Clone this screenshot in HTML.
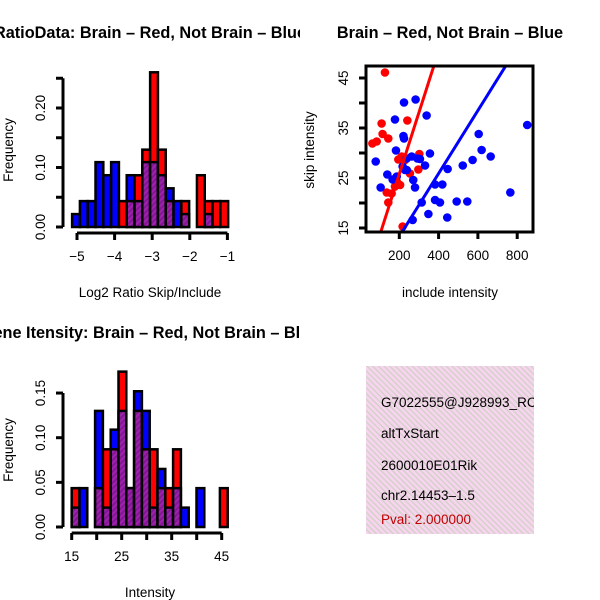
<!DOCTYPE html>
<html><head><meta charset="utf-8"><style>
html,body{margin:0;padding:0;background:#fff;}
svg{display:block;font-family:"Liberation Sans",sans-serif;}
</style></head><body>
<svg id="c" width="600" height="600" viewBox="0 0 600 600">
<defs>
<pattern id="hatchP" width="4" height="4" patternUnits="userSpaceOnUse" patternTransform="rotate(45)">
<rect width="4" height="4" fill="#a020b0"/><rect width="2" height="4" fill="#801890"/></pattern>
<pattern id="hatchBox" width="4" height="4" patternUnits="userSpaceOnUse" patternTransform="rotate(-45)">
<rect width="4" height="4" fill="#f8d4f0"/><rect width="1.3" height="4" fill="#cfd2c4"/></pattern>
<clipPath id="clipL1"><rect x="0" y="0" width="300" height="300"/></clipPath>
<clipPath id="clipL2"><rect x="0" y="300" width="300" height="300"/></clipPath>
<clipPath id="clipR1"><rect x="300" y="0" width="300" height="300"/></clipPath>
</defs>
<text x="150" y="38" text-anchor="middle" font-size="16.3" font-weight="bold" clip-path="url(#clipL1)">RatioData: Brain – Red, Not Brain – Blue</text>
<text x="150" y="297" text-anchor="middle" font-size="13.5">Log2 Ratio Skip/Include</text>
<text transform="translate(13,150) rotate(-90)" text-anchor="middle" font-size="13.5">Frequency</text>
<text x="450" y="38" text-anchor="middle" font-size="16.3" font-weight="bold" clip-path="url(#clipR1)">Brain – Red, Not Brain – Blue</text>
<text x="450" y="297" text-anchor="middle" font-size="13.5">include intensity</text>
<text transform="translate(314,150) rotate(-90)" text-anchor="middle" font-size="13.5">skip intensity</text>
<text x="150" y="338" text-anchor="middle" font-size="16.3" font-weight="bold" clip-path="url(#clipL2)">Gene Itensity: Brain – Red, Not Brain – Blue</text>
<text x="150" y="597" text-anchor="middle" font-size="13.5">Intensity</text>
<text transform="translate(13,450) rotate(-90)" text-anchor="middle" font-size="13.5">Frequency</text>
<g>
<rect x="366" y="366" width="168" height="168" fill="url(#hatchBox)"/>
<svg x="366" y="366" width="168" height="168"><g font-size="13.5">
<text x="15" y="41">G7022555@J928993_RC</text>
<text x="15" y="72">altTxStart</text>
<text x="15" y="104">2600010E01Rik</text>
<text x="15" y="134">chr2.14453–1.5</text>
<text x="15" y="158" fill="#c00000">Pval: 2.000000</text>
</g></svg>
</g>
</svg>
<script>
// ---- Ratio histogram data ----
const ratioBinStart = -5.13;
const ratioBinWidth = 0.2075;
const ratioRed  = [0,0,0,0,0,0,0.0435,0.0435,0.087,0.13,0.26,0.13,0.0435,0,0.0435,0,0.087,0.0435,0.0435,0.0435];
const ratioBlue = [0.0217,0.0435,0.0435,0.109,0.087,0.109,0,0.087,0.0435,0.109,0.109,0.087,0.065,0.0435,0.0217,0,0,0.0217,0,0];
const ratioXTicks = [-5,-4,-3,-2,-1];
const ratioYTicks = [0,0.05,0.10,0.15,0.20,0.25];
const ratioYLabels = ["0.00","","0.10","","0.20",""];
// ---- Intensity histogram data ----
const intBinStart = 15;
const intBinWidth = 1.56;
const intRed  = [0.0435,0,0,0.0435,0.087,0.087,0.174,0.0435,0.13,0.087,0.087,0.0435,0.0435,0.087,0,0,0,0,0,0.0435];
const intBlue = [0.0217,0.0435,0,0.13,0.0217,0.109,0.13,0.0435,0.152,0.13,0.0217,0.065,0.0217,0.0435,0.0217,0,0.0435,0,0,0];
const intXTicks = [15,20,25,30,35,40,45];
const intXLabels = ["15","","25","","35","","45"];
const intYTicks = [0,0.05,0.10,0.15];
const intYLabels = ["0.00","0.05","0.10","0.15"];
// ---- Scatter data ----
const redX = [127,110,241,63,85,115,144,302,297,195,212,229,254,204,187,136,161,144,217,178];
const redY = [46.1,35.9,36.5,31.9,32.3,33.8,32.9,29.8,26.7,28.7,29.3,28.6,25.9,23.6,24.3,22.1,21.9,20.1,15.3,23.3];
const blueX = [224,283,339,178,221,224,183,80,356,263,292,305,331,229,139,166,187,271,280,105,382,419,446,523,573,619,604,665,851,765,382,407,492,546,314,348,444,268,238,238,217];
const blueY = [40.1,40.7,37.5,36.7,33.4,32.9,30.5,28.3,29.9,29.3,28.9,28.8,27.5,26.6,25.7,24.7,25.3,24.6,23.1,23.1,23.7,23.7,26.8,27.5,28.6,30.6,33.8,29.3,35.6,22.1,20.6,20.1,20.3,20.3,20.1,17.8,17.1,16.6,26.6,28.9,27.3];
const redFit = [1.2,0.123];
const blueFit = [0.7,0.063];
const scXTicks = [200,400,600,800];
const scYTicks = [15,20,25,30,35,40,45];
const scYLabels = ["15","","25","","35","","45"];

const NS="http://www.w3.org/2000/svg";
const svg=document.getElementById('c');
function mk(tag,attrs,parent){const e=document.createElementNS(NS,tag);for(const k in attrs)e.setAttribute(k,attrs[k]);(parent||svg).appendChild(e);return e;}

function hist(o){
  const g=mk('g',{});
  
  
  const sx=v=>o.x0+(v-o.xa)*o.xs, sy=v=>o.y0-v*o.ys;
  for(let i=0;i<o.red.length;i++){
    const r=o.red[i],b=o.blue[i];
    const l=sx(o.binStart+i*o.binW), w=o.binW*o.xs;
    const hi=Math.max(r,b), lo=Math.min(r,b);
    if(hi>0){
      const rc=mk('rect',{x:l,y:sy(hi),width:w,height:sy(0)-sy(hi),fill:r>=b?'#ff0000':'#0000ff',stroke:'#000','stroke-width':2.5},g);
      
      
    }
    if(lo>0){
      const pc=mk('rect',{x:l,y:sy(lo),width:w,height:sy(0)-sy(lo),fill:'url(#hatchP)',stroke:'#000','stroke-width':2.5},g);
      
      
    }
  }
  const ya=mk('g',{});
  
  
  mk('line',{x1:o.axX,x2:o.axX,y1:sy(o.yTicks[0]),y2:sy(o.yTicks[o.yTicks.length-1]),stroke:'#000','stroke-width':3},ya);
  o.yTicks.forEach((t,i)=>{
    mk('line',{x1:o.axX-7,x2:o.axX,y1:sy(t),y2:sy(t),stroke:'#000','stroke-width':3},ya);
    if(o.yLabels[i]){const tx=mk('text',{transform:`translate(${o.axX-18},${sy(t)}) rotate(-90)`,'text-anchor':'middle','font-size':13.5},ya);tx.textContent=o.yLabels[i];}
  });
  const xa=mk('g',{});
  
  
  const xt=o.xTicks;
  mk('line',{x1:sx(xt[0]),x2:sx(xt[xt.length-1]),y1:o.axY,y2:o.axY,stroke:'#000','stroke-width':3},xa);
  xt.forEach((t,i)=>{
    mk('line',{x1:sx(t),x2:sx(t),y1:o.axY,y2:o.axY+7,stroke:'#000','stroke-width':3},xa);
    const lab=o.xLabels?o.xLabels[i]:String(t).replace('-','−');
    if(lab){const tx=mk('text',{x:sx(t),y:o.axY+28,'text-anchor':'middle','font-size':13.5},xa);tx.textContent=lab;}
  });
}
hist({name:'ratio-histogram',red:ratioRed,blue:ratioBlue,binStart:ratioBinStart,binW:ratioBinWidth,xa:-5,x0:77,xs:37.6,y0:227,ys:595,axX:63,axY:233,xTicks:ratioXTicks,yTicks:ratioYTicks,yLabels:ratioYLabels});
hist({name:'intensity-histogram',red:intRed,blue:intBlue,binStart:intBinStart,binW:intBinWidth,xa:15,x0:71.7,xs:5,y0:527,ys:893,axX:63,axY:533,xTicks:intXTicks,xLabels:intXLabels,yTicks:intYTicks,yLabels:intYLabels});

(function(){
  const L=366,R=533,T=66,B=232;
  const sx=v=>360+v*0.1965, sy=v=>228-(v-15)*5;
  const g=mk('g',{});
  
  
  const cp=mk('clipPath',{id:'scClip'},g);mk('rect',{x:L,y:T,width:R-L,height:B-T},cp);
  const pts=mk('g',{'clip-path':'url(#scClip)'},g);
  redX.forEach((x,i)=>{const c=mk('circle',{cx:sx(x),cy:sy(redY[i]),r:4.3,fill:'#ff0000'},pts);
    
    });
  blueX.forEach((x,i)=>{const c=mk('circle',{cx:sx(x),cy:sy(blueY[i]),r:4.3,fill:'#0000ff'},pts);
    
    });
  [[redFit,'#ff0000','red-fit-line'],[blueFit,'#0000ff','blue-fit-line']].forEach(([f,col,n])=>{
    const x1=-100,x2=1200;
    const ln=mk('line',{x1:sx(x1),y1:sy(f[0]+f[1]*x1),x2:sx(x2),y2:sy(f[0]+f[1]*x2),stroke:col,'stroke-width':3},pts);
    
    
  });
  const fr=mk('rect',{x:L,y:T,width:R-L,height:B-T,fill:'none',stroke:'#000','stroke-width':3},g);
  
  
  scXTicks.forEach(t=>{mk('line',{x1:sx(t),x2:sx(t),y1:B,y2:B+7,stroke:'#000','stroke-width':3},g);
    const tx=mk('text',{x:sx(t),y:B+28,'text-anchor':'middle','font-size':13.5},g);tx.textContent=t;});
  scYTicks.forEach((t,i)=>{mk('line',{x1:L-7,x2:L,y1:sy(t),y2:sy(t),stroke:'#000','stroke-width':3},g);
    if(scYLabels[i]){const tx=mk('text',{transform:`translate(${L-18},${sy(t)}) rotate(-90)`,'text-anchor':'middle','font-size':13.5},g);tx.textContent=scYLabels[i];}});
})();
</script>
</body></html>
